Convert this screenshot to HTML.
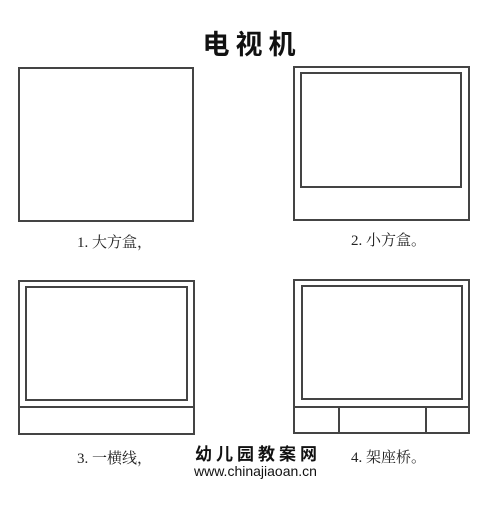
<!DOCTYPE html>
<html><head><meta charset="utf-8"><style>
html,body{margin:0;padding:0;background:#fff;}
body{width:500px;height:526px;position:relative;overflow:hidden;}
.b{position:absolute;border:2px solid #444;box-sizing:border-box;}
.h{position:absolute;background:#444;}
.t{position:absolute;font-family:"Liberation Serif","Noto Serif CJK SC",serif;font-size:15px;color:#222;white-space:nowrap;line-height:1;}
</style></head><body>
<div style="position:absolute;left:2px;width:500px;top:32px;text-align:center;font-family:'Liberation Sans','Noto Sans CJK SC',sans-serif;font-weight:bold;font-size:27px;letter-spacing:6px;line-height:1;color:#111;">电视机</div>

<div class="b" style="left:18px;top:67px;width:176px;height:155px;"></div>

<div class="b" style="left:293px;top:66px;width:177px;height:155px;"></div>
<div class="b" style="left:300px;top:72px;width:162px;height:116px;"></div>

<div class="b" style="left:18px;top:280px;width:177px;height:155px;"></div>
<div class="b" style="left:25px;top:286px;width:163px;height:115px;"></div>
<div class="h" style="left:18px;top:406px;width:177px;height:2px;"></div>

<div class="b" style="left:293px;top:279px;width:177px;height:155px;"></div>
<div class="b" style="left:301px;top:285px;width:162px;height:115px;"></div>
<div class="h" style="left:293px;top:406px;width:177px;height:2px;"></div>
<div class="h" style="left:338px;top:406px;width:2px;height:28px;"></div>
<div class="h" style="left:425px;top:406px;width:2px;height:28px;"></div>

<div class="t" style="left:77px;top:236px;">1. 大方盒，</div>
<div class="t" style="left:351px;top:234px;">2. 小方盒。</div>
<div class="t" style="left:77px;top:452px;">3. 一横线，</div>
<div class="t" style="left:351px;top:451px;">4. 架座桥。</div>

<div style="position:absolute;left:195px;top:446px;font-family:'Liberation Sans','Noto Sans CJK SC',sans-serif;font-weight:bold;font-size:17px;letter-spacing:4px;line-height:1;color:#111;">幼儿园教案网</div>
<div style="position:absolute;left:194px;top:464px;font-family:'Liberation Sans',sans-serif;font-size:14px;line-height:1;color:#111;">www.chinajiaoan.cn</div>
</body></html>
